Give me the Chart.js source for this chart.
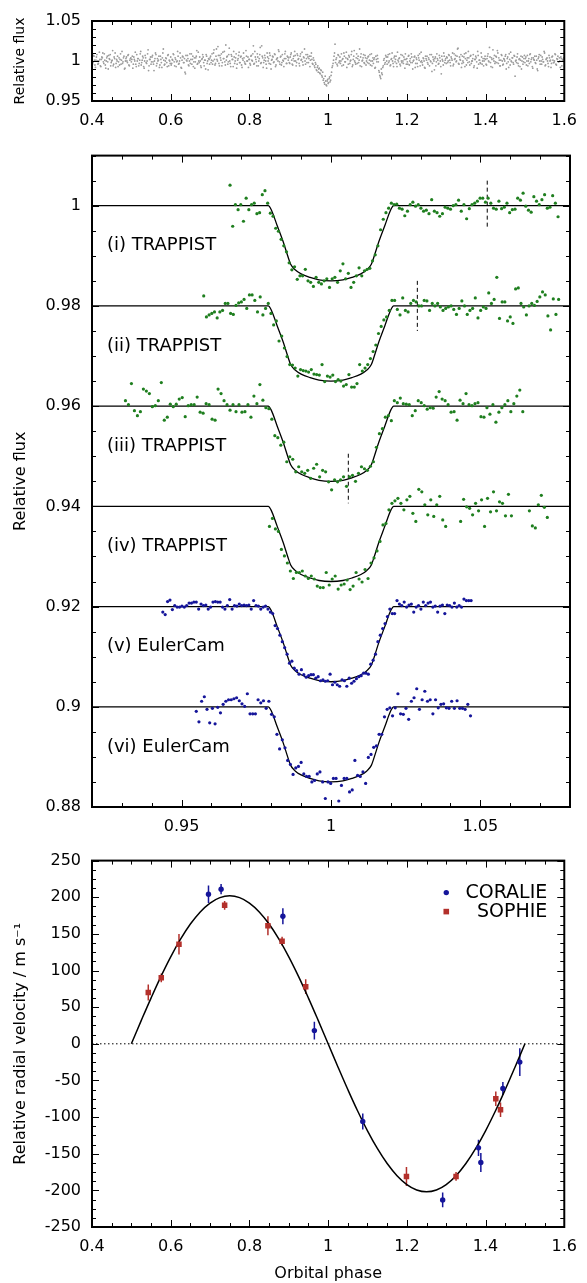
<!DOCTYPE html>
<html>
<head>
<meta charset="utf-8">
<title>Light curves and radial velocities</title>
<script src="https://cdn.jsdelivr.net/npm/chart.js@4.4.1/dist/chart.umd.min.js"></script>
<style>
  body { margin: 0; background: #fff; }
  #wrap { position: relative; width: 587px; height: 1283px; }
  canvas { position: absolute; left: 0; }
</style>
</head>
<body>
<div id="wrap">
  <canvas id="fluxAll" width="587" height="135" style="top:0px"></canvas>
  <canvas id="transits" width="587" height="705" style="top:135px"></canvas>
  <canvas id="rv" width="587" height="443" style="top:840px"></canvas>
</div>
<script>
// ============================================================
// Data
// ============================================================

// Top panel: full phase-folded photometry (flux - 1, units of 1e-3)
// two interleaved runs, each sampled every 0.0025 in phase
const topStartA = 0.4;
const topStartB = 0.40125;
const topStep = 0.0025;
const topFluxA = [
    3,-2,6,-5,1,8,-4,0,2,-7,5,10,-3,1,-9,4,-1,7,2,-6,0,13,-4,3,-8,2,6,-1,-5,9,1,-3,4,-10,0,5,-2,8,-6,3,
    -1,6,-4,2,11,-7,0,3,-3,9,-5,1,4,-9,7,-2,0,14,-6,2,-4,5,-1,-12,3,8,-3,0,6,-5,2,-8,10,1,-4,4,-2,7,-6,0,
    5,-3,1,8,-6,2,-1,12,-4,0,4,-9,6,-2,3,-16,1,7,-5,0,-3,9,2,-7,4,-1,6,-4,11,-2,0,-8,3,5,-6,1,8,-3,-11,2,
    4,-2,9,0,14,-5,6,2,18,-3,7,1,-6,11,3,-1,20,5,-4,8,0,-7,6,2,12,-3,4,-9,1,7,-2,5,-5,3,10,-1,-4,6,0,-8,
    2,-5,7,0,19,-3,5,-1,9,-6,3,17,-2,6,-8,1,4,-4,10,0,-3,7,-10,2,5,-1,8,-5,3,0,12,-4,6,-2,1,-7,9,3,-3,5,
    4,-3,8,1,-5,6,12,0,-2,7,3,-6,9,2,-1,5,15,-4,3,8,-2,6,1,10,-3,4,-6,-2,-11,-8,-14,-9,-16,-12,-20,-24,-27,-19,-30,-25,
    -28,-22,-26,-18,-8,-3,6,21,2,-4,8,-2,5,0,-6,3,10,-1,4,-8,2,7,-3,1,12,-5,6,0,-4,9,3,-2,15,5,-7,1,8,-3,4,0,
    -2,6,1,-5,9,0,-3,4,-8,2,7,-1,-14,-20,-10,-17,-6,3,-2,5,-4,8,0,-6,2,10,-3,4,-1,6,-7,1,3,-4,8,-2,0,5,-9,2,
    3,-4,7,0,-2,5,-10,1,6,-3,2,-7,4,9,-1,0,-5,3,-8,6,1,-2,4,-6,0,8,-3,2,-11,5,-1,3,-4,7,0,-16,2,-5,6,1,
    -3,4,0,7,-2,5,1,-6,9,3,-1,6,16,-4,2,8,-3,0,5,-7,10,1,-2,4,-5,7,0,3,-8,2,6,-1,12,-4,1,-3,5,0,-6,3,
    2,-5,6,0,17,-2,4,-8,3,7,-1,5,13,-3,1,-6,8,0,-4,2,6,-10,3,-1,9,-5,0,4,-2,7,-19,1,5,-3,2,-7,6,0,-4,3,
    -2,5,0,-6,3,8,-1,4,-9,2,6,-3,1,-12,5,0,7,-4,2,-1,10,-5,3,0,-7,4,1,-3,6,-2,0,8,-5,2,-1,4,-8,3,0,2,1
];
const topFluxB = [
    -4,7,1,-8,5,0,-3,11,-6,2,4,-1,9,-5,0,6,-10,3,8,-2,1,-6,5,10,-3,0,-7,4,2,-4,12,-1,6,-9,3,0,7,-5,1,4,
    2,-9,5,0,-4,8,3,-6,1,12,-2,6,-7,0,4,-3,9,-12,2,5,-1,7,-4,0,10,-6,3,1,-8,6,-2,4,15,-5,0,3,-7,8,1,-3,
    -5,2,9,-1,4,-7,0,6,-3,10,-8,1,5,-2,-14,7,0,3,-6,9,2,-4,6,-1,-9,4,13,-3,0,5,-6,2,8,-2,1,-10,6,0,3,-4,
    6,1,-4,10,2,-3,15,0,7,-6,4,9,-2,3,12,-5,1,6,-1,16,-3,8,2,-7,5,0,9,-4,3,11,-2,6,-8,1,4,-3,13,0,5,2,
    -3,6,1,9,-4,12,2,-6,5,0,8,-3,19,4,-2,7,0,-9,5,3,10,-4,1,6,-2,9,-7,2,4,14,-1,5,-5,8,0,3,12,-3,6,1,
    -2,5,10,-4,3,0,7,-6,9,2,-3,6,1,11,-5,4,0,8,-2,5,3,-7,6,2,-4,1,-8,-4,-12,-6,-10,-15,-11,-18,-14,-22,-29,-25,-31,-23,
    -27,-20,-24,-14,-6,1,10,-2,4,-6,7,0,-3,9,2,-5,6,-1,11,3,-4,5,0,8,-7,2,13,-2,4,-3,6,1,-6,9,0,4,-2,7,-5,3,
    5,-3,8,0,-6,4,2,-9,6,-1,3,-12,-18,-22,-15,-8,1,-4,7,0,5,-2,9,-5,3,0,-7,6,2,-3,11,-1,4,-6,0,7,-3,2,9,-4,
    -1,6,-5,3,9,-2,0,5,-8,4,-3,7,1,-6,11,-2,4,0,-9,3,6,-4,2,8,-1,-13,5,0,3,-6,9,1,-3,4,-7,6,0,10,-2,3,
    5,-2,8,1,-6,3,10,-4,2,7,0,15,-3,5,1,-8,6,-2,9,3,-5,4,12,-1,6,-3,0,8,-6,2,4,-9,7,1,-2,10,-4,3,0,6,
    -4,3,9,-1,5,-7,2,14,0,-3,6,-2,10,4,-6,1,7,-5,3,0,8,-3,5,-8,2,11,-1,4,-4,6,0,-2,9,-6,3,1,-10,5,-1,7,
    3,-5,7,0,-3,9,2,-7,4,1,-2,6,-10,3,8,-4,0,5,-1,12,-6,2,4,-3,7,0,-8,5,1,-2,9,-4,3,6,-1,0,5,-6,2,4
];

// Middle panel: six transits, offset by 0.02 (flux - level, units of 1e-4)
const curveNames = ['(i) TRAPPIST', '(ii) TRAPPIST', '(iii) TRAPPIST', '(iv) TRAPPIST', '(v) EulerCam', '(vi) EulerCam'];
const curveLevels = [1.00, 0.98, 0.96, 0.94, 0.92, 0.90];
const curveStarts = [0.9662, 0.9574, 0.9312, 0.9794, 0.9437, 0.9549];
const curveSteps = [0.0009, 0.0009, 0.001, 0.001, 0.0008, 0.0009];

const flux1 = [
    41,-41,2,-8,2,-31,15,-8,2,5,-16,-14,22,30,5,
    -15,-21,-45,-51,-67,-80,-92,-114,-128,-122,-147,-140,
    -140,-127,-150,-153,-161,-143,-153,-156,-150,-146,-163,-146,-143,-153,-130,-116,-146,-135,-163,-153,-140,-124,-140,-130,
    -127,-125,-110,-98,-80,-48,-27,-14,-5,5,2,
    3,-5,-7,-20,-11,2,7,-1,2,-5,-11,-9,-16,12,-11,-14,-21,-16,-3,-5,-7,0,2,11,-11,2,-26,-6,2,5,
    9,15,15,7,15,5,-5,-7,9,-6,-3,5,-14,-8,-7,15,11,25,-1,-9,-13,18,9,2,12,22,-5,-3,20,5,-22
];
const flux2 = [
    20,-22,-18,-15,-12,-24,-12,-9,5,5,-15,-17,1,6,8,13,-5,22,22,11,-12,18,-18,-5,
    5,-15,-38,-30,-70,-60,-84,-101,-117,-118,-124,-140,
    -127,-129,-130,-132,-127,-136,-137,-138,-117,-151,-140,-142,-138,-151,-147,-150,-160,-157,-137,-162,-162,-155,-117,-130,-124,
    -117,-105,-91,-78,-55,-41,-28,-22,-9,11,11,
    -7,-18,16,-9,-12,5,11,8,0,0,11,10,-9,5,0,5,-2,-9,-5,-2,0,-7,-17,-5,10,0,-17,-9,-5,16,
    -24,-9,-2,-5,26,5,13,57,-25,8,8,-30,-22,-35,34,36,5,-2,-18,0,5,1,9,18,28,22,-20,-48,14,-17,13
];
const flux3 = [
    11,3,45,-9,-19,-11,34,30,25,-1,1,11,47,-28,-22,4,-1,4,14,17,-21,1,3,3,18,
    -12,-14,5,3,-26,-28,34,25,11,3,-8,3,-11,3,-12,-11,3,-22,20,5,43,12,-3,
    -5,-26,-59,-63,-78,-72,-111,-101,-106,-131,
    -121,-131,-134,-128,-144,-124,-116,-141,-128,-131,-151,-167,-147,-151,-147,-141,-160,-141,-138,-150,-134,-121,
    -125,-128,-120,-111,-82,-55,-45,-22,-19,-29,11,
    7,16,5,4,3,-19,-9,11,7,1,-6,-3,-4,18,29,14,11,3,-12,-11,-28,12,
    5,25,3,1,5,7,-21,-22,-3,-16,3,-32,-12,-3,3,11,-11,5,20,32,-11
];
const flux4 = [
    -40,-24,-45,-50,-86,-99,-113,-129,-144,-132,
    -132,-129,-139,-144,-139,-145,-159,-162,-162,-132,-157,-145,-139,-165,-157,-155,-147,-166,-159,-132,-145,-151,-126,
    -144,-113,-103,-89,-70,-37,-34,-7,6,11,
    16,6,-7,13,20,-14,-30,34,29,3,-17,13,-20,3,20,-27,-40,
    null,null,null,null,
    -30,14,-1,-4,-17,6,-9,13,-40,16,-11,29,-9,9,6,-19,24,-19,
    null,null,null,null,null,
    -9,-39,-43,3,22,-2,-22
];
const flux5 = [
    -11,-16,10,13,-6,2,-1,-1,1,-1,2,7,7,9,9,-5,5,2,3,-5,-1,9,10,9,9,
    -1,-5,2,14,-5,2,1,5,2,3,2,3,-5,12,2,1,-5,-1,1,-5,
    -11,-14,-38,-44,-57,-70,-82,-95,-113,-109,-123,-128,-135,
    -126,-136,-141,-138,-136,-136,-143,-140,-148,-146,-149,-148,-135,-156,-151,-156,-159,-146,-148,-159,-143,-153,-149,-144,-140,-138,-133,
    -133,-135,-115,-107,-95,-70,-57,-44,-34,-20,-5,-14,-14,12,
    5,2,9,-1,3,5,-11,-1,2,-5,9,2,7,9,-1,1,-11,1,3,-14,3,2,-1,7,-1,2,-1,15,12,12,12
];
const flux6 = [
    -9,-30,11,20,-5,-32,-3,-34,-1,-12,5,11,14,14,16,18,12,6,1,26,-14,-14,-14,14,8,12,-3,11,
    -15,-20,-55,-84,-66,-82,-107,-115,-135,-122,-119,
    -111,-134,-139,-139,-150,-147,-134,-130,-150,-183,-150,-153,-143,-143,-188,-157,-143,-143,-170,-166,
    -107,-137,-139,-130,-153,-101,-95,-81,-78,-55,-55,-20,-5,-2,-18,-2,26,-14,-15,-3,
    -25,11,18,36,-5,14,31,11,14,-14,14,-2,5,6,-2,-3,11,-3,12,-3,-3,-5,5,-18
];
const curveFlux = [flux1, flux2, flux3, flux4, flux5, flux6];

// transit model (same for every curve), depth in units of 1e-4
const modelPhase = [0.92, 0.979, 0.980, 0.982, 0.984, 0.9855, 0.9865, 0.988, 0.990, 0.993, 0.996, 1.000,
                    1.004, 1.007, 1.010, 1.012, 1.0135, 1.0145, 1.016, 1.018, 1.020, 1.021, 1.08];
const modelDepth = [0, 0, -8, -40, -72, -100, -117, -128, -136, -143, -148, -150,
                    -148, -143, -136, -128, -117, -100, -72, -40, -8, 0, 0];

// dashed markers
const markPhase = [1.0523, 1.0289, 1.0058];
const markTop = [1.005, 0.985, 0.9505];
const markBottom = [0.9953, 0.975, 0.9406];

// Bottom panel: radial velocities (m/s)
const coraliePhase = [0.696, 0.728, 0.885, 0.965, 1.088, 1.291, 1.382, 1.388, 1.444, 1.487];
const coralieRV = [204, 211, 174, 18, -106, -213, -142, -162, -61, -25];
const coralieErr = [12, 7, 11, 12, 11, 10, 11, 13, 9, 19];

const sophiePhase = [0.543, 0.576, 0.621, 0.737, 0.847, 0.883, 0.943, 1.199, 1.325, 1.426, 1.438];
const sophieRV = [70, 90, 136, 189, 161, 140, 78, -181, -181, -75, -90];
const sophieErr = [11, 6, 14, 6, 13, 6, 10, 13, 6, 10, 10];

const rvModelPhase = [0.5, 0.525, 0.55, 0.575, 0.6, 0.625, 0.65, 0.675, 0.7, 0.725, 0.75,
                      0.775, 0.8, 0.825, 0.85, 0.875, 0.9, 0.925, 0.95, 0.975, 1.0,
                      1.025, 1.05, 1.075, 1.1, 1.125, 1.15, 1.175, 1.2, 1.225, 1.25,
                      1.275, 1.3, 1.325, 1.35, 1.375, 1.4, 1.425, 1.45, 1.475, 1.5];
const rvModel = [0, 31.6, 62.4, 91.7, 118.7, 142.8, 163.4, 180.0, 192.1, 199.5, 202,
                 199.5, 192.1, 180.0, 163.4, 142.8, 118.7, 91.7, 62.4, 31.6, 0,
                 -31.6, -62.4, -91.7, -118.7, -142.8, -163.4, -180.0, -192.1, -199.5, -202,
                 -199.5, -192.1, -180.0, -163.4, -142.8, -118.7, -91.7, -62.4, -31.6, 0];

const GREEN = '#1f7f1f';
const BLUE = '#15159a';
const RED = '#b3302b';

// ============================================================
// Helpers
// ============================================================

Chart.defaults.font.family = "'DejaVu Sans', sans-serif";
Chart.defaults.color = '#000';

function fmt(v) {
    return String(Number(v.toFixed(3)));
}

function makeAxis(cfg) {
    return {
        type: 'linear',
        min: cfg.min,
        max: cfg.max,
        grid: { display: false, drawTicks: false },
        border: { display: false },
        afterBuildTicks: function(s) { s.ticks = cfg.majors.map(v => ({ value: v })); },
        afterFit: function(s) {
            if (cfg.width) s.width = cfg.width;
            if (cfg.height) s.height = cfg.height;
        },
        ticks: {
            color: '#000',
            font: { size: 16 },
            padding: cfg.pad,
            maxRotation: 0,
            autoSkip: false,
            callback: function(v) { return fmt(v); }
        },
        title: cfg.title ? {
            display: true,
            text: cfg.title,
            color: '#000',
            font: { size: cfg.titleSize || 16 },
            padding: cfg.titlePad
        } : { display: false }
    };
}

function pairs(xs, ys) {
    return xs.map((x, i) => ({ x: x, y: ys[i] }));
}

// inward ticks on all four sides + heavy frame
const frameTicks = {
    id: 'frameTicks',
    afterDatasetsDraw(chart, args, opts) {
        const { ctx, chartArea: a } = chart;
        const xs = chart.scales.x, ys = chart.scales.y;

        function minors(scale, step) {
            const out = [];
            for (let k = Math.ceil(scale.min / step - 1e-6); k * step <= scale.max + 1e-9; k++) out.push(k * step);
            return out;
        }

        ctx.save();
        ctx.strokeStyle = '#000';
        ctx.lineWidth = 1;
        ctx.beginPath();
        function xTick(v, len) {
            const p = Math.round(xs.getPixelForValue(v)) + 0.5;
            ctx.moveTo(p, a.bottom); ctx.lineTo(p, a.bottom - len);
            ctx.moveTo(p, a.top); ctx.lineTo(p, a.top + len);
        }
        function yTick(v, len) {
            const p = Math.round(ys.getPixelForValue(v)) + 0.5;
            ctx.moveTo(a.left, p); ctx.lineTo(a.left + len, p);
            ctx.moveTo(a.right, p); ctx.lineTo(a.right - len, p);
        }
        minors(xs, opts.xMinor).forEach(v => xTick(v, 4));
        minors(ys, opts.yMinor).forEach(v => yTick(v, 4));
        xs.ticks.forEach(t => xTick(t.value, 7));
        ys.ticks.forEach(t => yTick(t.value, 7));
        ctx.stroke();
        ctx.lineWidth = 2;
        ctx.strokeRect(a.left, a.top, a.width, a.height);
        ctx.restore();
    }
};

// curve names in the transit panel
const curveLabels = {
    id: 'curveLabels',
    afterDatasetsDraw(chart) {
        const { ctx } = chart;
        const xs = chart.scales.x, ys = chart.scales.y;
        ctx.save();
        ctx.fillStyle = '#000';
        ctx.font = "18px 'DejaVu Sans'";
        ctx.textAlign = 'left';
        ctx.textBaseline = 'middle';
        curveNames.forEach((name, i) => {
            ctx.fillText(name, xs.getPixelForValue(0.925), ys.getPixelForValue(curveLevels[i] - 0.008));
        });
        ctx.restore();
    }
};

// error bars + legend for the RV panel
const rvExtras = {
    id: 'rvExtras',
    beforeDatasetsDraw(chart) {
        const { ctx } = chart;
        const xs = chart.scales.x, ys = chart.scales.y;
        ctx.save();
        ctx.lineWidth = 1.5;
        chart.data.datasets.forEach(ds => {
            if (!ds.errors) return;
            ctx.strokeStyle = ds.errColor;
            ctx.beginPath();
            ds.data.forEach((p, i) => {
                const px = xs.getPixelForValue(p.x);
                ctx.moveTo(px, ys.getPixelForValue(p.y + ds.errors[i]));
                ctx.lineTo(px, ys.getPixelForValue(p.y - ds.errors[i]));
            });
            ctx.stroke();
        });
        ctx.restore();
    },
    afterDatasetsDraw(chart) {
        const { ctx, chartArea: a } = chart;
        const mx = a.right - 118;
        const y1 = a.top + 32, y2 = a.top + 51;
        ctx.save();
        ctx.fillStyle = BLUE;
        ctx.beginPath();
        ctx.arc(mx, y1, 2.7, 0, Math.PI * 2);
        ctx.fill();
        ctx.fillStyle = RED;
        ctx.fillRect(mx - 2.8, y2 - 2.8, 5.6, 5.6);
        ctx.fillStyle = '#000';
        ctx.font = "19px 'DejaVu Sans'";
        ctx.textAlign = 'right';
        ctx.textBaseline = 'middle';
        ctx.fillText('CORALIE', a.right - 17, y1);
        ctx.fillText('SOPHIE', a.right - 17, y2);
        ctx.restore();
    }
};

// ============================================================
// Top panel: full light curve
// ============================================================

function topSet(start, vals) {
    return {
        data: vals.map((d, i) => ({ x: start + i * topStep, y: 1 + d / 1000 })),
        pointRadius: 0.9,
        pointBorderWidth: 0,
        pointBackgroundColor: '#9c9c9c'
    };
}

new Chart(document.getElementById('fluxAll'), {
    type: 'scatter',
    data: { datasets: [topSet(topStartA, topFluxA), topSet(topStartB, topFluxB)] },
    options: {
        responsive: false,
        animation: false,
        layout: { padding: { top: 21, right: 17, bottom: 0, left: 0 } },
        plugins: { legend: { display: false }, tooltip: { enabled: false }, frameTicks: { xMinor: 0.05, yMinor: 0.01 } },
        scales: {
            x: makeAxis({ min: 0.4, max: 1.6, majors: [0.4, 0.6, 0.8, 1, 1.2, 1.4, 1.6], pad: 10, height: 34 }),
            y: makeAxis({ min: 0.95, max: 1.05, majors: [0.95, 1, 1.05], pad: 11, width: 92,
                          title: 'Relative flux', titleSize: 14, titlePad: { top: 12, bottom: 0 } })
        }
    },
    plugins: [frameTicks]
});

// ============================================================
// Middle panel: individual transits
// ============================================================

const transitSets = [];
curveFlux.forEach((vals, c) => {
    transitSets.push({
        data: vals.map((d, i) => ({ x: curveStarts[c] + i * curveSteps[c], y: d === null ? null : curveLevels[c] + d / 10000 })),
        pointRadius: 1.6,
        pointBorderWidth: 0,
        pointBackgroundColor: c < 4 ? GREEN : BLUE
    });
});
curveLevels.forEach(level => {
    transitSets.push({
        data: modelPhase.map((x, i) => ({ x: x, y: level + modelDepth[i] / 10000 })),
        showLine: true,
        borderColor: '#000',
        borderWidth: 1.3,
        pointRadius: 0,
        cubicInterpolationMode: 'monotone'
    });
});
markPhase.forEach((x, i) => {
    transitSets.push({
        data: [{ x: x, y: markTop[i] }, { x: x, y: markBottom[i] }],
        showLine: true,
        borderColor: '#000',
        borderWidth: 1,
        borderDash: [4, 3],
        pointRadius: 0
    });
});

new Chart(document.getElementById('transits'), {
    type: 'scatter',
    data: { datasets: transitSets },
    options: {
        responsive: false,
        animation: false,
        layout: { padding: { top: 14, right: 17, bottom: 0, left: 0 } },
        plugins: { legend: { display: false }, tooltip: { enabled: false }, frameTicks: { xMinor: 0.01, yMinor: 0.005 } },
        scales: {
            x: makeAxis({ min: 0.92, max: 1.08, majors: [0.95, 1, 1.05], pad: 10, height: 33 }),
            y: makeAxis({ min: 0.88, max: 1.01, majors: [0.88, 0.9, 0.92, 0.94, 0.96, 0.98, 1], pad: 11, width: 92,
                          title: 'Relative flux', titleSize: 16, titlePad: { top: 11, bottom: 0 } })
        }
    },
    plugins: [frameTicks, curveLabels]
});

// ============================================================
// Bottom panel: radial velocities
// ============================================================

new Chart(document.getElementById('rv'), {
    type: 'scatter',
    data: {
        datasets: [
            {
                label: 'CORALIE',
                data: pairs(coraliePhase, coralieRV),
                errors: coralieErr,
                errColor: BLUE,
                pointRadius: 2.7,
                pointBorderWidth: 0,
                pointBackgroundColor: BLUE
            },
            {
                label: 'SOPHIE',
                data: pairs(sophiePhase, sophieRV),
                errors: sophieErr,
                errColor: RED,
                pointStyle: 'rect',
                pointRadius: 3.9,
                pointBorderWidth: 0,
                pointBackgroundColor: RED
            },
            {
                data: pairs(rvModelPhase, rvModel),
                showLine: true,
                borderColor: '#000',
                borderWidth: 1.5,
                pointRadius: 0,
                tension: 0.4
            },
            {
                data: [{ x: 0.4, y: 0 }, { x: 1.6, y: 0 }],
                showLine: true,
                borderColor: '#000',
                borderWidth: 1,
                borderDash: [1.5, 2.5],
                pointRadius: 0
            }
        ]
    },
    options: {
        responsive: false,
        animation: false,
        layout: { padding: { top: 14, right: 17, bottom: 0, left: 0 } },
        plugins: { legend: { display: false }, tooltip: { enabled: false }, frameTicks: { xMinor: 0.05, yMinor: 12.5 } },
        scales: {
            x: makeAxis({ min: 0.4, max: 1.6, majors: [0.4, 0.6, 0.8, 1, 1.2, 1.4, 1.6], pad: 10, height: 56,
                          title: 'Orbital phase', titleSize: 16, titlePad: { top: 0, bottom: 0 } }),
            y: makeAxis({ min: -250, max: 250, majors: [-250, -200, -150, -100, -50, 0, 50, 100, 150, 200, 250], pad: 11, width: 92,
                          title: 'Relative radial velocity / m s\u207B\u00B9', titleSize: 16, titlePad: { top: 11, bottom: 0 } })
        }
    },
    plugins: [frameTicks, rvExtras]
});
</script>
</body>
</html>
